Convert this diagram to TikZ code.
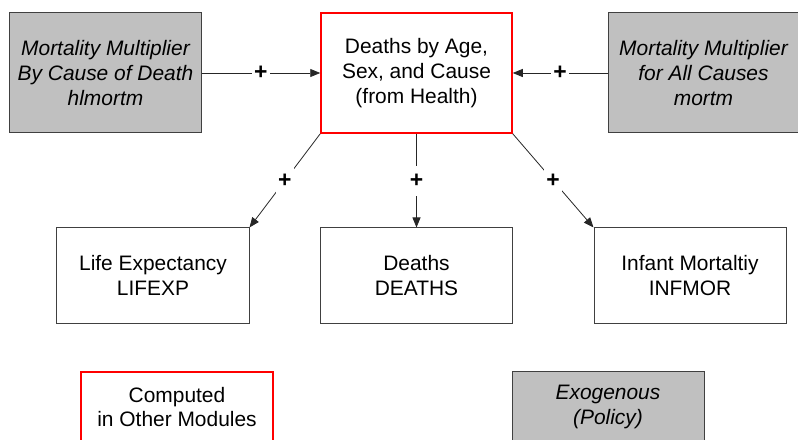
\documentclass[tikz,border=0pt]{standalone}
\usepackage{fontspec}
\setmainfont{Liberation Sans}
\usetikzlibrary{arrows.meta}
\definecolor{boxgrey}{HTML}{C0C0C0}
\definecolor{edgegrey}{HTML}{404040}
\begin{document}
\begin{tikzpicture}[x=1bp,y=-1bp,
  every node/.style={font=\fontsize{21}{25}\selectfont, align=center, inner sep=0pt},
  exo/.style={draw=edgegrey, line width=1bp, fill=boxgrey, font=\fontsize{21}{25}\selectfont\itshape},
  computed/.style={draw=red, line width=1.5bp},
  output/.style={draw=edgegrey, line width=1bp},
  topbox/.style={minimum width=191bp, minimum height=120bp},
  lowbox/.style={minimum width=192bp, minimum height=95bp},
  keybox/.style={minimum width=192bp, minimum height=70bp},
  link/.style={draw=black!85, line width=0.8bp, -{Triangle[length=10bp,width=8bp]}},
  sign/.style={fill=white, minimum width=18bp, minimum height=30bp, font=\fontsize{23}{25}\selectfont\bfseries}]
  \useasboundingbox (0,0) rectangle (798,440);

	\node[exo, topbox] (hlmortm) at (105.5,73) {Mortality Multiplier\\By Cause of Death\\hlmortm};
	\node[computed, topbox] (health) at (416.5,73) {Deaths by Age,\\Sex, and Cause\\(from Health)};
	\node[exo, topbox] (mortm) at (703.5,73) {Mortality Multiplier\\for All Causes\\mortm};

	\node[output, lowbox] (lifexp) at (153,275.5) {Life Expectancy\\LIFEXP};
	\node[output, lowbox] (deaths) at (416.5,275.5) {Deaths\\DEATHS};
	\node[output, lowbox] (infmor) at (690,275.5) {Infant Mortaltiy\\INFMOR};

	\draw[link] (hlmortm) -- node[sign] {+} (health);
	\draw[link] (mortm) -- node[sign] {+} (health);
	\draw[link] (health.south west) -- node[sign] {+} (lifexp.north east);
	\draw[link] (health) -- node[sign] {+} (deaths);
	\draw[link] (health.south east) -- node[sign] {+} (infmor.north west);

	% legend
	\node[computed, keybox] (keycomp) at (177,407) {Computed\\in Other Modules};
	\node[exo, keybox] (keyexo) at (608,407) {Exogenous\\(Policy)};
\end{tikzpicture}
\end{document}
